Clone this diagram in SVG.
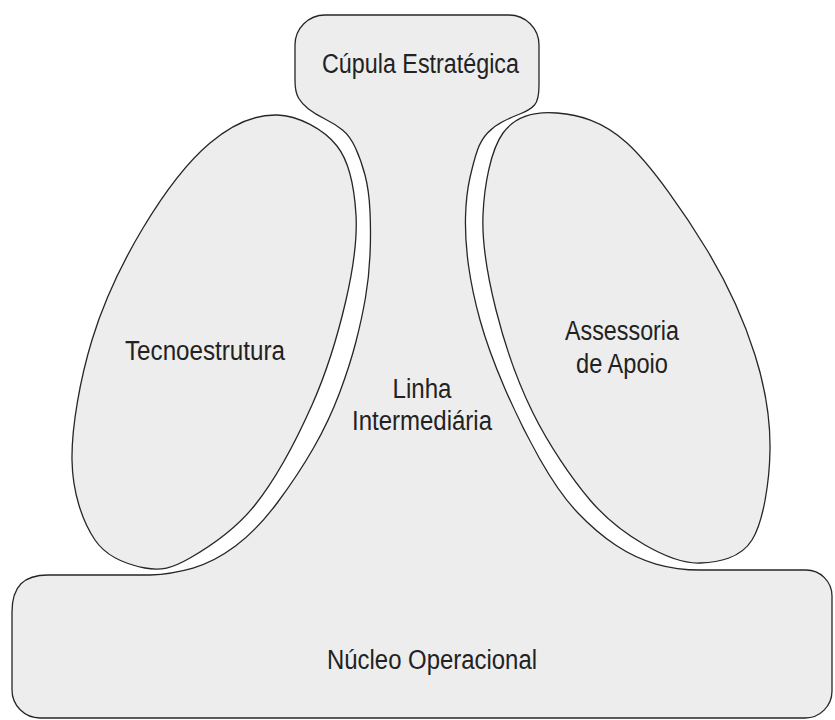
<svg xmlns="http://www.w3.org/2000/svg" width="835" height="720" viewBox="0 0 835 720">
<style>
.shape{fill:#ededed;stroke:#262626;stroke-width:1.3;stroke-linejoin:round}
.lbl{font-family:"Liberation Sans",Arial,sans-serif;font-size:27px;fill:#222;text-anchor:middle}
</style>
<rect x="0" y="0" width="835" height="720" fill="#ffffff"/>
<g id="estrutura-base">
<path class="shape" d="M295,45 A30,30 0 0 1 325,15 H509 A30,30 0 0 1 539,45 V85
Q539,100 534.5,105 Q530,110 521,113.5 Q512,117 503,121.5 Q494,126 487.5,133 Q481,140 477.5,150 Q474,160 470,177.5 Q466,195 465.5,217.5 Q465,240 468.5,265.5 Q472,291 480,320 Q488,349 504,386.5 Q520,424 539.5,458.5 Q559,493 577.5,512.5 Q596,532 615.5,545 Q635,558 656,564 Q677,570 700,570
H806 A26,26 0 0 1 832,596 V691 A27,27 0 0 1 805,718 H40 A28,28 0 0 1 12,690 V612 C12,586 24,575 48,575 H150
Q172,574 193,568 Q214,562 235.5,546 Q257,530 277.5,502.5 Q298,475 313.5,448 Q329,421 339.5,393 Q350,365 356,341.5 Q362,318 365.5,297.5 Q369,277 370,255 Q371,233 370,211.5 Q369,190 365,175 Q361,160 355.5,148 Q350,136 342.5,130 Q335,124 325,119 Q315,114 308.5,109 Q302,104 298.5,98 Q295,92 295,80 Z"/>
</g>
<g id="cupula-estrategica">
<text class="lbl" x="420.5" y="73" textLength="197" lengthAdjust="spacingAndGlyphs">Cúpula Estratégica</text>
</g>
<g id="tecnoestrutura">
<path class="shape" d="M277,115 C298.2,115.5 323.8,129.3 337,146 C350.2,162.7 354.5,189.3 356,215 C357.5,240.7 353.3,268.3 346,300 C338.7,331.7 327.2,370.8 312,405 C296.8,439.2 275.3,479.5 255,505 C234.7,530.5 208.3,547.5 190,558 C171.7,568.5 160.8,571 145,568 C129.2,565 107.2,558 95,540 C82.8,522 72.5,493.3 72,460 C71.5,426.7 80.2,378.7 92,340 C103.8,301.3 123.3,260.8 143,228 C162.7,195.2 187.7,161.8 210,143 C232.3,124.2 255.8,114.5 277,115 Z"/>
<text class="lbl" x="205" y="360" textLength="160" lengthAdjust="spacingAndGlyphs">Tecnoestrutura</text>
</g>
<g id="linha-intermediaria">
<text class="lbl" x="422" y="398" textLength="59" lengthAdjust="spacingAndGlyphs">Linha</text>
<text class="lbl" x="422" y="430" textLength="140" lengthAdjust="spacingAndGlyphs">Intermediária</text>
</g>
<g id="assessoria-de-apoio">
<path class="shape" d="M557,113 C577.7,114.7 602,120.2 627,143 C652,165.8 685.7,214.7 707,250 C728.3,285.3 744.5,321.7 755,355 C765.5,388.3 770.5,419.2 770,450 C769.5,480.8 763.7,521.2 752,540 C740.3,558.8 717.8,562.2 700,563 C682.2,563.8 663.3,555.5 645,545 C626.7,534.5 608.7,522 590,500 C571.3,478 548.7,444.7 533,413 C517.3,381.3 504.3,343 496,310 C487.7,277 481.8,244.5 483,215 C484.2,185.5 490.7,150 503,133 C515.3,116 536.3,111.3 557,113 Z"/>
<text class="lbl" x="622" y="340" textLength="114" lengthAdjust="spacingAndGlyphs">Assessoria</text>
<text class="lbl" x="622" y="373" textLength="92" lengthAdjust="spacingAndGlyphs">de Apoio</text>
</g>
<g id="nucleo-operacional">
<text class="lbl" x="432" y="669" textLength="210" lengthAdjust="spacingAndGlyphs">Núcleo Operacional</text>
</g>
</svg>
